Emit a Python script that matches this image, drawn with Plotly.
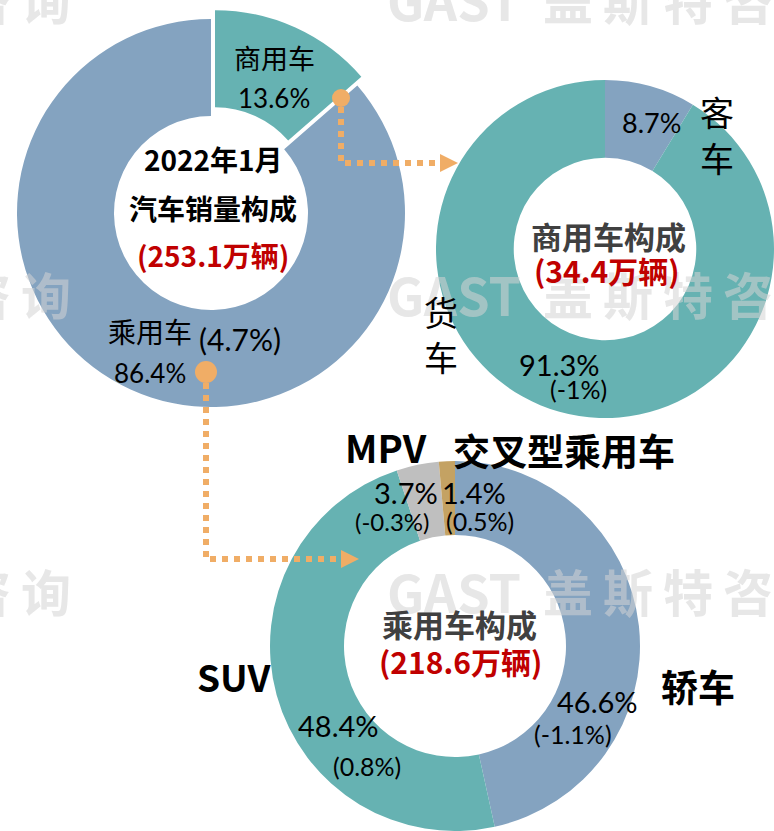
import plotly.graph_objects as go

W, H = 774, 831

# ---------------- data ----------------
total_period = "2022年1月"
total_title = "汽车销量构成"
total_sales = 253.1            # 万辆
seg_labels = ["商用车", "乘用车"]
seg_share = [13.6, 86.4]
seg_change = [None, 4.7]

cv_title = "商用车构成"
cv_sales = 34.4
cv_labels = ["客车", "货车"]
cv_share = [8.7, 91.3]
cv_change = [None, -1]

pv_title = "乘用车构成"
pv_sales = 218.6
pv_labels = ["轿车", "SUV", "MPV", "交叉型乘用车"]
pv_share = [46.6, 48.4, 3.7, 1.4]
pv_change = [-1.1, 0.8, -0.3, 0.5]

watermark_latin = "GAST"
watermark_cjk = "盖斯特咨询"

# ---------------- style ----------------
BLUE = "#84A3C0"
TEAL = "#66B2B2"
GREY = "#BFBFBF"
TAN = "#C4A263"
ORANGE = "#F0AD66"
RED = "#C00000"
DARK = "#404040"
CJK = "Noto Sans CJK SC"
NUM = "Lato, Noto Sans CJK SC"
WM_COLOR = "rgba(212,212,212,0.55)"


def px(x):
    return x / W


def py(y):
    return 1 - y / H


def pct(v):
    return f"{v:g}%"


def chg(v):
    return f"({v:g}%)"


fig = go.Figure()

# pie 1 (overall)
pull1 = 0.05
c1x, c1y, r1 = 211, 213, 194
rd = r1 * (1 + pull1)
fig.add_trace(go.Pie(
    labels=seg_labels, values=seg_share, sort=False, direction="clockwise",
    rotation=0, hole=0.5, pull=[pull1, 0], textinfo="none", hoverinfo="label+percent",
    marker=dict(colors=[TEAL, BLUE], line=dict(width=0)),
    domain=dict(x=[px(c1x - rd), px(c1x + rd)], y=[py(c1y + rd), py(c1y - rd)]),
    showlegend=False,
))

# pie 2 (commercial)
c2y, r2 = 249, 169
fig.add_trace(go.Pie(
    labels=cv_labels, values=cv_share, sort=False, direction="clockwise",
    rotation=0, hole=0.54, textinfo="none",
    marker=dict(colors=[BLUE, TEAL], line=dict(width=0)),
    domain=dict(x=[1 - 2 * r2 / W, 1.0], y=[py(c2y + r2), py(c2y - r2)]),
    showlegend=False,
))

# pie 3 (passenger)
c3x, r3 = 455, 185
fig.add_trace(go.Pie(
    labels=pv_labels, values=pv_share, sort=False, direction="clockwise",
    rotation=0, hole=0.6, textinfo="none",
    marker=dict(colors=[BLUE, TEAL, GREY, TAN], line=dict(width=0)),
    domain=dict(x=[px(c3x - r3), px(c3x + r3)], y=[0, 2 * r3 / H]),
    showlegend=False,
))

ann = []


def add(text, x, y, size, color="#000000", family=CJK, bold=False, xanchor="center"):
    t = f"<b>{text}</b>" if bold else text
    ann.append(dict(text=t, x=px(x), y=py(y), xref="paper", yref="paper",
                    xanchor=xanchor, yanchor="middle", showarrow=False,
                    font=dict(family=family, size=size, color=color)))


# watermarks
for rowy in [-2, 293, 590]:
    add(watermark_latin, 385, rowy, 52, WM_COLOR, CJK, True, xanchor="left")
    for i, ch in enumerate(watermark_cjk):
        add(ch, 568 + 60 * i, rowy, 50, WM_COLOR, CJK, True)
        add(ch, 46 - 60 * (len(watermark_cjk) - 1 - i), rowy, 50, WM_COLOR, CJK, True)

# pie 1 labels
add(seg_labels[0], 274, 58, 27)
add(pct(seg_share[0]), 274, 98, 26, family=NUM)
add(total_period, 213, 159, 28, bold=True)
add(total_title, 213, 208, 28, bold=True)
add(f"({total_sales:g}万辆)", 213, 255, 28, RED, bold=True)
add(seg_labels[1], 150, 331, 28)
add(chg(seg_change[1]), 240, 339, 30, family=NUM)
add(pct(seg_share[1]), 150, 373, 26, family=NUM)

# pie 2 labels
add(pct(cv_share[0]), 651, 122, 27, family=NUM)
add(cv_labels[0][0], 717, 112, 34)
add(cv_labels[0][1], 717, 158, 34)
add(cv_title, 608, 235, 31, DARK, bold=True)
add(f"({cv_sales:g}万辆)", 607, 270, 30, RED, bold=True)
add(cv_labels[1][0], 441, 311, 34)
add(cv_labels[1][1], 441, 356, 34)
add(pct(cv_share[1]), 559, 364, 29, family=NUM)
add(chg(cv_change[1]), 578, 389, 25, family=NUM)

# pie 3 labels
add(pv_labels[2], 386, 446, 38, bold=True)
add(pv_labels[3], 564, 450, 37, bold=True)
add(pct(pv_share[2]), 406, 492, 29, family=NUM)
add(chg(pv_change[2]), 392, 521, 24, family=NUM)
add(pct(pv_share[3]), 474, 492, 29, family=NUM)
add(chg(pv_change[3]), 480, 521, 25, family=NUM)
add(pv_title, 459, 623, 31, DARK, bold=True)
add(f"({pv_sales:g}万辆)", 460, 661, 30, RED, bold=True)
add(pv_labels[1], 234, 676, 37, bold=True)
add(pv_labels[0], 698, 686, 37, bold=True)
add(pct(pv_share[1]), 338, 725, 29, family=NUM)
add(chg(pv_change[1]), 367, 766, 25, family=NUM)
add(pct(pv_share[0]), 597, 701, 29, family=NUM)
add(chg(pv_change[0]), 573, 734, 25, family=NUM)

# connectors
shapes = []


def path(pts):
    return "M " + " L ".join(f"{px(x):.5f},{py(y):.5f}" for x, y in pts)


def connector(x0, y0, y1, x1, dot_r):
    shapes.append(dict(type="path", xref="paper", yref="paper",
                       path=path([(x0, y0 + dot_r), (x0, y1), (x1, y1)]),
                       line=dict(color=ORANGE, width=6, dash="6px,6px")))
    shapes.append(dict(type="path", xref="paper", yref="paper",
                       path=path([(x1, y1 - 9), (x1 + 18, y1), (x1, y1 + 9)]) + " Z",
                       fillcolor=ORANGE, line=dict(width=0)))
    shapes.append(dict(type="circle", xref="paper", yref="paper",
                       x0=px(x0 - dot_r), x1=px(x0 + dot_r),
                       y0=py(y0 + dot_r), y1=py(y0 - dot_r),
                       fillcolor=ORANGE, line=dict(width=0)))


connector(341, 98, 163, 440, 9)
connector(206, 372, 559, 341, 11)

fig.update_layout(
    width=W, height=H, autosize=False,
    margin=dict(l=0, r=0, t=0, b=0),
    paper_bgcolor="white", plot_bgcolor="white",
    annotations=ann, shapes=shapes,
)

fig.write_html("out.html", config={"displayModeBar": False},
               post_script="document.body.style.margin='0';document.body.style.overflow='hidden';")
